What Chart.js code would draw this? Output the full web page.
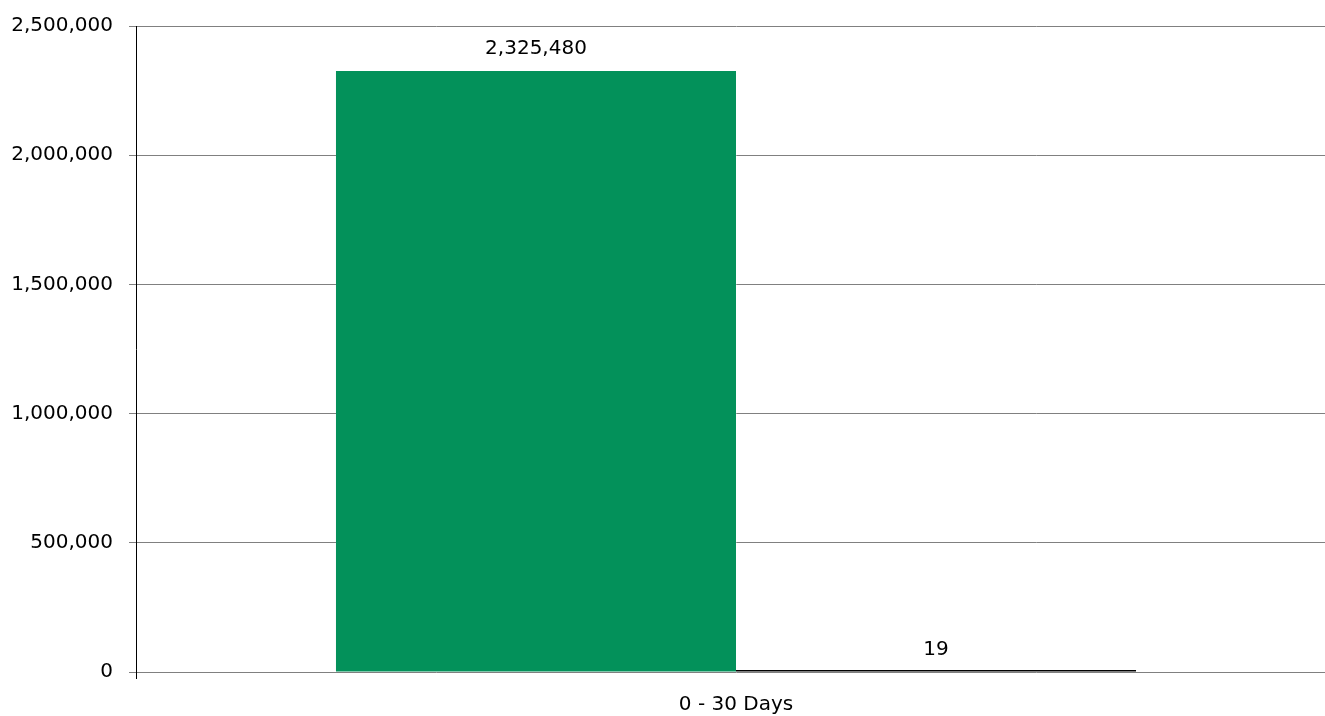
<!DOCTYPE html>
<html>
<head>
<meta charset="utf-8">
<script src="https://cdn.jsdelivr.net/npm/chart.js@4/dist/chart.umd.min.js"></script>
<style>
  html, body { margin: 0; padding: 0; background: #fff; overflow: hidden; }
  #wrap { width: 1336px; height: 716px; position: relative; }
</style>
</head>
<body>
<div id="wrap"><canvas id="agingChart"></canvas></div>
<script>
// Данные графика
const categories = ['0 - 30 Days'];
const greenValues = [2325480];
const blackValues = [19];
const yTicks = [0, 500000, 1000000, 1500000, 2000000, 2500000];

const fmt = v => v.toLocaleString('en-US');

// Подписи значений над столбцами
const valueLabels = {
    id: 'valueLabels',
    afterDatasetsDraw(chart) {
        const c = chart.ctx;
        c.save();
        c.font = '20px "DejaVu Sans"';
        c.fillStyle = '#000';
        c.textAlign = 'center';
        c.textBaseline = 'alphabetic';
        chart.data.datasets.forEach((ds, i) => {
            chart.getDatasetMeta(i).data.forEach((bar, j) => {
                c.fillText(fmt(ds.data[j]), bar.x, chart.scales.y.getPixelForValue(ds.data[j]) - 17);
            });
        });
        c.restore();
    }
};

Chart.defaults.font.family = '"DejaVu Sans"';
Chart.defaults.font.size = 20;
Chart.defaults.color = '#000';

new Chart(document.getElementById('agingChart'), {
    type: 'bar',
    data: {
        labels: categories,
        datasets: [
            { data: greenValues, backgroundColor: '#03915a', barPercentage: 1, categoryPercentage: 0.6667 },
            { data: blackValues, backgroundColor: '#000', barPercentage: 1, categoryPercentage: 0.6667, minBarLength: 2 }
        ]
    },
    options: {
        responsive: true,
        maintainAspectRatio: false,
        animation: false,
        layout: { padding: { top: 26, right: 0, left: 0, bottom: 0 } },
        plugins: { legend: { display: false }, tooltip: { enabled: false } },
        scales: {
            x: {
                grid: { drawOnChartArea: false, tickLength: 7, color: '#000', offset: true },
                border: { display: false },
                ticks: { padding: 14 },
                afterFit: s => { s.height = 44; }
            },
            y: {
                min: 0,
                max: 2500000,
                afterBuildTicks: s => { s.ticks = yTicks.map(v => ({ value: v })); },
                grid: { color: '#808080', tickLength: 7 },
                border: { color: '#000' },
                ticks: { padding: 16, font: { lineHeight: 1 }, callback: v => fmt(v) },
                afterFit: s => { s.width = 136; }
            }
        }
    },
    plugins: [valueLabels]
});
</script>
</body>
</html>
